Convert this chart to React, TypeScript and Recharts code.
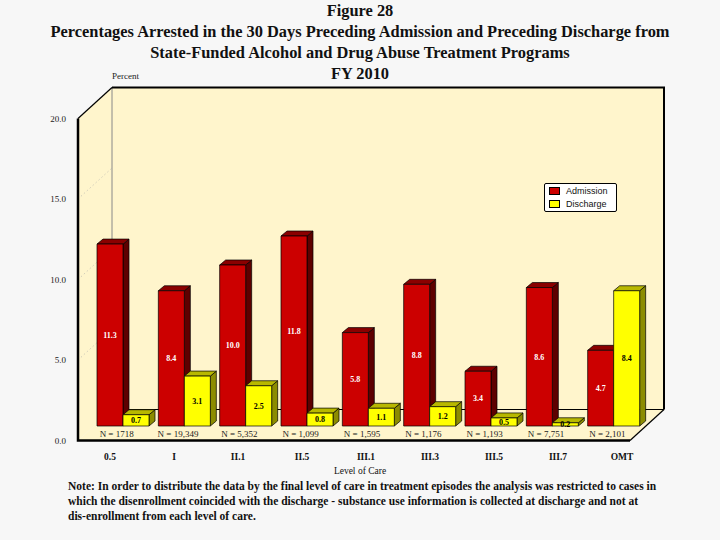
import { Bar, BarChart, LabelList, XAxis, YAxis, usePlotArea } from "recharts";

const levels = ["0.5", "I", "II.1", "II.5", "III.1", "III.3", "III.5", "III.7", "OMT"];
const nCounts = [
  "N = 1718",
  "N = 19,349",
  "N = 5,352",
  "N = 1,099",
  "N = 1,595",
  "N = 1,176",
  "N = 1,193",
  "N = 7,751",
  "N = 2,101",
];
const admission = [11.3, 8.4, 10.0, 11.8, 5.8, 8.8, 3.4, 8.6, 4.7];
const discharge = [0.7, 3.1, 2.5, 0.8, 1.1, 1.2, 0.5, 0.2, 8.4];
const yTicks = [0, 5, 10, 15, 20];

const SERIF = '"Liberation Serif", "Times New Roman", serif';
const SANS = '"Liberation Sans", Arial, sans-serif';
const CREAM = "#FFF5CC";

const data = levels.map((level, i) => ({
  level,
  n: nCounts[i],
  admission: admission[i],
  discharge: discharge[i],
}));

// 3D-ish box: front face plus a side and top face offset up-right
function Box3D(props: any) {
  const { x, y, width, height, fill, side, top } = props;
  if (width == null || height == null) return null;
  const dx = 6;
  const dy = 5;
  const r = x + width;
  const b = y + height;
  return (
    <g stroke="#000" strokeWidth={0.7} strokeLinejoin="round">
      <polygon points={`${r},${y} ${r + dx},${y - dy} ${r + dx},${b - dy} ${r},${b}`} fill={side} />
      <polygon points={`${x},${y} ${x + dx},${y - dy} ${r + dx},${y - dy} ${r},${y}`} fill={top} />
      <rect x={x} y={y} width={width} height={height} fill={fill} />
    </g>
  );
}

// walls and floor of the 3D box, drawn from the plot area
function Backdrop() {
  const plot = usePlotArea();
  if (!plot) return null;
  const PL = plot.x;
  const PR = plot.x + plot.width;
  const PT = plot.y;
  const PB = plot.y + plot.height;
  const FL = PL;
  const FR = PR - 24;
  const FT = PT + 14.5;
  const FB = PB + 14.5;
  const DX = 34;
  const DY = 31;
  const BL = FL + DX;
  const BR = FR + DX;
  const BT = FT - DY;
  const BB = FB - DY;
  const unit = plot.height / 20;
  return (
    <g>
      <polygon points={`${FL},${FT} ${BL},${BT} ${BL},${BB} ${FL},${FB}`} fill={CREAM} />
      <rect x={BL} y={BT} width={BR - BL} height={BB - BT} fill={CREAM} />
      <polygon points={`${FL},${FB} ${FR},${FB} ${BR},${BB} ${BL},${BB}`} fill={CREAM} />
      {yTicks.slice(1, 4).map((v) => (
        <line
          key={v}
          x1={FL}
          y1={FB - v * unit}
          x2={BL}
          y2={BB - v * unit}
          stroke="#aaa"
          strokeWidth={0.8}
          strokeDasharray="1 3"
        />
      ))}
      <line x1={BL} y1={BT} x2={BL} y2={BB} stroke="#888" strokeWidth={1} />
      <line x1={BL} y1={BB} x2={BR} y2={BB} stroke="#000" strokeWidth={1} />
      <polyline points={`${BL},${BT} ${BR},${BT} ${BR},${BB}`} fill="none" stroke="#000" strokeWidth={2} />
      <line x1={FL} y1={FT} x2={BL} y2={BT} stroke="#000" strokeWidth={1.2} />
      <line x1={FR} y1={FB} x2={BR} y2={BB} stroke="#000" strokeWidth={1.2} />
      <polyline points={`${FL},${FT} ${FL},${FB} ${FR},${FB}`} fill="none" stroke="#000" strokeWidth={2.5} />
    </g>
  );
}

function YTick(props: any) {
  const { x, y, payload } = props;
  return (
    <text x={x} y={y + 14.5} textAnchor="end" dominantBaseline="central" fontSize={9} fontFamily={SERIF} fill="#222">
      {Number(payload.value).toFixed(1)}
    </text>
  );
}

export default function App() {
  return (
    <div style={{ position: "absolute", left: 0, top: 0, width: 720, height: 540, background: "#F7F7F7", overflow: "hidden" }}>
      <div style={{ position: "absolute", left: 0, top: 0, width: 720, textAlign: "center", fontFamily: SERIF, fontWeight: "bold", fontSize: 16.4, lineHeight: "21px", color: "#111" }}>
        <div>Figure 28</div>
        <div>Percentages Arrested in the 30 Days Preceding Admission and Preceding Discharge from</div>
        <div>State-Funded Alcohol and Drug Abuse Treatment Programs</div>
        <div>FY 2010</div>
      </div>
      <div style={{ position: "absolute", left: 112, top: 71, fontFamily: SERIF, fontSize: 9, color: "#222" }}>Percent</div>

      <BarChart
        width={720}
        height={540}
        data={data}
        margin={{ top: 104, right: 66, bottom: 74, left: 0 }}
        barGap={0}
        barSize={26}
        style={{ position: "absolute", left: 0, top: 0 }}
      >
        <Backdrop />
        <XAxis
          xAxisId="b"
          dataKey="level"
          height={22}
          axisLine={false}
          tickLine={false}
          tickSize={0}
          tickMargin={9}
          interval={0}
          tick={{ fontSize: 9.5, fontFamily: SERIF, fontWeight: "bold", fill: "#111" }}
        />
        <XAxis
          xAxisId="a"
          dataKey="n"
          height={18}
          padding={{ left: 14, right: 10 }}
          axisLine={false}
          tickLine={false}
          tickSize={0}
          tickMargin={5}
          interval={0}
          tick={{ fontSize: 9, fontFamily: SERIF, fill: "#222", dx: -6 }}
        />
        <YAxis
          domain={[0, 20]}
          ticks={yTicks}
          width={78}
          axisLine={false}
          tickLine={false}
          tickSize={0}
          tickMargin={12}
          tick={<YTick />}
        />
        <Bar
          dataKey="admission"
          name="Admission"
          xAxisId="a"
          fill="#CC0000"
          isAnimationActive={false}
          shape={(p: any) => <Box3D {...p} fill="#CC0000" side="#5E0000" top="#8A0000" />}
        >
          <LabelList
            dataKey="admission"
            position="center"
            formatter={(v: any) => Number(v).toFixed(1)}
            style={{ fontSize: 8, fontFamily: SERIF, fontWeight: "bold", fill: "#fff" }}
          />
        </Bar>
        <Bar
          dataKey="discharge"
          name="Discharge"
          xAxisId="a"
          fill="#FFFF00"
          isAnimationActive={false}
          shape={(p: any) => <Box3D {...p} fill="#FFFF00" side="#8C8C00" top="#B8B800" />}
        >
          <LabelList
            dataKey="discharge"
            position="center"
            formatter={(v: any) => Number(v).toFixed(1)}
            style={{ fontSize: 8, fontFamily: SERIF, fontWeight: "bold", fill: "#000" }}
          />
        </Bar>
      </BarChart>

      <div style={{ position: "absolute", left: 544, top: 183, width: 71, height: 27, background: "#fff", border: "1px solid #000", borderRadius: 2, fontFamily: SANS, fontSize: 9, color: "#111" }}>
        <div style={{ display: "flex", alignItems: "center", height: 13, paddingLeft: 4 }}>
          <span style={{ display: "inline-block", width: 9, height: 6, background: "#CC0000", border: "1px solid #000", marginRight: 6 }} />
          Admission
        </div>
        <div style={{ display: "flex", alignItems: "center", height: 13, paddingLeft: 4 }}>
          <span style={{ display: "inline-block", width: 9, height: 6, background: "#FFFF00", border: "1px solid #000", marginRight: 6 }} />
          Discharge
        </div>
      </div>

      <div style={{ position: "absolute", left: 0, width: 720, top: 466, textAlign: "center", fontFamily: SERIF, fontSize: 9.5, color: "#111" }}>
        Level of Care
      </div>
      <div style={{ position: "absolute", left: 68, top: 479, width: 650, fontFamily: SERIF, fontWeight: "bold", fontSize: 11.5, lineHeight: "15px", color: "#111", whiteSpace: "nowrap" }}>
        <div>Note: In order to distribute the data by the final level of care in treatment episodes the analysis was restricted to cases in</div>
        <div>which the disenrollment coincided with the discharge - substance use information is collected at discharge and not at</div>
        <div>dis-enrollment from each level of care.</div>
      </div>
    </div>
  );
}
